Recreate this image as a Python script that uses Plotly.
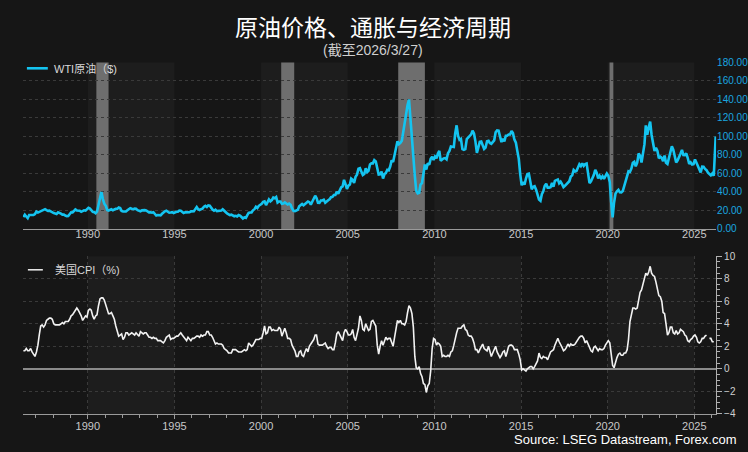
import pandas as pd
import plotly.graph_objects as go

# ---------------- data ----------------
# WTI crude, monthly (USD/bbl), from 1986-04 to 2026-02, plus final point 2026-03-27
wti = [
    12.8, 15.4, 13.4, 11.6, 15.1, 14.9, 14.9, 15.2, 16.1,                     # 1986 Apr-Dec
    18.7, 17.7, 18.3, 18.6, 19.4, 20.0, 21.4, 20.3, 19.5, 19.8, 18.9, 17.3,   # 1987
    17.1, 16.7, 16.2, 17.9, 17.4, 16.5, 15.5, 15.5, 14.5, 13.8, 14.0, 16.3,   # 1988
    18.0, 17.8, 19.4, 21.0, 20.0, 20.0, 19.6, 18.5, 19.6, 20.1, 19.8, 21.1,   # 1989
    22.9, 22.1, 20.4, 18.4, 18.2, 16.9, 18.6, 27.2, 35.0, 40.0, 32.3, 27.3,   # 1990
    25.0, 20.5, 19.9, 20.8, 21.2, 20.2, 21.4, 21.7, 21.9, 23.2, 22.5, 19.5,   # 1991
    18.8, 19.0, 18.9, 20.2, 20.9, 22.4, 21.8, 21.4, 21.9, 21.7, 20.3, 19.4,   # 1992
    19.1, 20.1, 20.3, 20.3, 19.9, 19.1, 17.9, 18.0, 17.5, 18.1, 16.7, 14.5,   # 1993
    15.0, 14.8, 14.7, 16.4, 17.9, 19.1, 19.7, 18.4, 17.5, 17.7, 18.1, 17.2,   # 1994
    18.0, 18.5, 18.6, 19.9, 19.7, 18.4, 17.3, 17.9, 17.9, 17.4, 18.0, 19.0,   # 1995
    18.9, 19.1, 21.4, 23.6, 21.3, 20.5, 21.3, 22.0, 24.0, 24.9, 23.7, 25.4,   # 1996
    25.1, 22.2, 21.0, 19.7, 20.8, 19.3, 19.7, 19.9, 19.8, 21.3, 20.2, 18.3,   # 1997
    16.7, 16.1, 15.0, 15.4, 14.9, 13.7, 14.2, 13.4, 15.0, 14.4, 12.9, 11.3,   # 1998
    12.5, 12.0, 14.7, 17.3, 17.8, 17.9, 20.1, 21.3, 23.9, 22.6, 25.0, 26.1,   # 1999
    27.2, 29.4, 29.9, 25.7, 28.8, 31.8, 29.8, 31.2, 33.9, 33.1, 34.4, 28.5,   # 2000
    29.6, 29.6, 27.2, 27.4, 28.6, 27.6, 26.4, 27.4, 26.2, 22.2, 19.6, 19.3,   # 2001
    19.7, 20.7, 24.4, 26.3, 27.0, 25.5, 26.9, 28.4, 29.7, 28.9, 26.3, 29.4,   # 2002
    32.9, 35.9, 33.5, 28.3, 28.1, 30.7, 30.8, 31.6, 28.3, 30.3, 31.1, 32.1,   # 2003
    34.3, 34.7, 36.7, 36.7, 40.3, 38.0, 40.7, 44.9, 45.9, 53.1, 48.5, 43.3,   # 2004
    46.8, 48.0, 54.3, 53.0, 49.8, 56.3, 58.7, 65.0, 65.6, 62.3, 58.3, 59.4,   # 2005
    65.5, 61.6, 62.9, 69.7, 70.9, 70.9, 74.4, 73.0, 63.8, 58.9, 59.1, 62.0,   # 2006
    54.5, 59.3, 60.4, 63.9, 63.4, 67.5, 74.1, 72.4, 79.9, 85.8, 94.8, 91.7,   # 2007
    93.0, 95.4, 105.5, 112.6, 125.4, 134.0, 140.0, 116.7, 104.1, 76.6, 57.3, 41.1,  # 2008
    38.5, 39.1, 47.9, 49.6, 59.0, 69.6, 64.2, 71.1, 69.4, 75.7, 78.0, 74.5,   # 2009
    78.3, 76.4, 81.2, 84.3, 73.7, 75.3, 76.3, 76.6, 75.2, 81.9, 84.3, 89.2,   # 2010
    89.2, 88.6, 102.9, 112.0, 100.9, 96.3, 97.3, 86.3, 85.5, 86.3, 97.2, 98.6,  # 2011
    100.3, 102.2, 106.2, 103.3, 94.7, 82.3, 87.9, 94.1, 94.5, 89.5, 86.5, 87.9,  # 2012
    94.8, 95.3, 92.9, 92.0, 94.5, 95.8, 104.6, 106.6, 106.3, 100.5, 93.9, 97.6,  # 2013
    94.6, 100.8, 100.8, 102.1, 102.2, 105.8, 103.6, 96.5, 93.2, 84.4, 75.8, 59.3,  # 2014
    47.2, 50.6, 47.8, 54.5, 59.3, 59.8, 51.0, 42.9, 45.5, 46.2, 42.4, 37.2,   # 2015
    31.7, 30.3, 37.5, 40.8, 46.7, 48.8, 44.7, 44.7, 45.2, 49.8, 45.7, 52.0,   # 2016
    52.5, 53.5, 49.3, 51.1, 48.5, 45.2, 46.6, 48.0, 49.8, 51.6, 56.6, 57.9,   # 2017
    63.7, 62.2, 62.7, 66.3, 70.0, 67.9, 71.0, 68.1, 70.2, 70.8, 57.0, 49.5,   # 2018
    51.4, 55.0, 58.2, 63.9, 60.8, 54.7, 57.4, 54.8, 57.0, 54.0, 57.0, 59.9,   # 2019
    57.5, 50.5, 29.2, 12.5, 28.6, 38.3, 40.7, 42.3, 39.6, 39.4, 41.0, 47.0,   # 2020
    52.0, 59.0, 62.3, 61.7, 65.2, 71.4, 72.5, 67.7, 71.6, 81.5, 79.2, 71.7,   # 2021
    83.2, 91.6, 112.0, 101.8, 109.6, 116.0, 101.6, 93.7, 84.3, 87.6, 84.4, 76.4,  # 2022
    78.1, 76.8, 73.3, 79.4, 71.6, 70.3, 76.1, 81.4, 89.4, 85.6, 77.7, 71.9,   # 2023
    74.2, 77.2, 81.3, 85.4, 80.0, 79.8, 81.8, 76.7, 70.2, 71.9, 69.7, 70.1,   # 2024
    75.1, 71.5, 68.2, 63.5, 61.0, 67.3, 67.2, 64.9, 63.5, 60.9, 59.6, 58.0,   # 2025
    60.0, 57.5,                                                               # 2026 Jan-Feb
]
wti_last_date = "2026-03-27"
wti_last_value = 100.0

# US CPI YoY (%), monthly from 1986-04 to 2026-02 (None = missing release)
cpi = [
    1.6, 1.6, 1.8, 1.6, 1.6, 1.8, 1.5, 1.3, 1.1,                     # 1986 Apr-Dec
    1.5, 2.1, 3.0, 3.8, 3.9, 3.7, 3.9, 4.3, 4.4, 4.5, 4.5, 4.4,      # 1987
    4.0, 3.9, 3.9, 3.9, 3.9, 4.0, 4.1, 4.0, 4.2, 4.2, 4.2, 4.4,      # 1988
    4.7, 4.8, 5.0, 5.1, 5.4, 5.2, 5.0, 4.7, 4.3, 4.5, 4.7, 4.6,      # 1989
    5.2, 5.3, 5.2, 4.7, 4.4, 4.7, 4.8, 5.6, 6.2, 6.3, 6.3, 6.1,      # 1990
    5.7, 5.3, 4.9, 4.9, 5.0, 4.7, 4.4, 3.8, 3.4, 2.9, 3.0, 3.1,      # 1991
    2.6, 2.8, 3.2, 3.2, 3.0, 3.1, 3.2, 3.1, 3.0, 3.2, 3.0, 2.9,      # 1992
    3.3, 3.2, 3.1, 3.2, 3.2, 3.0, 2.8, 2.8, 2.7, 2.8, 2.7, 2.7,      # 1993
    2.5, 2.5, 2.5, 2.4, 2.3, 2.5, 2.8, 2.9, 3.0, 2.6, 2.7, 2.7,      # 1994
    2.8, 2.9, 2.9, 3.1, 3.2, 3.0, 2.8, 2.6, 2.5, 2.8, 2.6, 2.5,      # 1995
    2.7, 2.7, 2.8, 2.9, 2.9, 2.8, 3.0, 2.9, 3.0, 3.0, 3.3, 3.3,      # 1996
    3.0, 3.0, 2.8, 2.5, 2.2, 2.3, 2.2, 2.2, 2.2, 2.1, 1.8, 1.7,      # 1997
    1.6, 1.4, 1.4, 1.4, 1.7, 1.7, 1.7, 1.6, 1.5, 1.5, 1.5, 1.6,      # 1998
    1.7, 1.6, 1.7, 2.3, 2.1, 2.0, 2.1, 2.3, 2.6, 2.6, 2.6, 2.7,      # 1999
    2.7, 3.2, 3.8, 3.1, 3.2, 3.7, 3.7, 3.4, 3.5, 3.4, 3.4, 3.4,      # 2000
    3.7, 3.5, 2.9, 3.3, 3.6, 3.2, 2.7, 2.7, 2.6, 2.1, 1.9, 1.6,      # 2001
    1.1, 1.1, 1.5, 1.6, 1.2, 1.1, 1.5, 1.8, 1.5, 2.0, 2.2, 2.4,      # 2002
    2.6, 3.0, 3.0, 2.2, 2.1, 2.1, 2.1, 2.2, 2.3, 2.0, 1.8, 1.9,      # 2003
    1.9, 1.7, 1.7, 2.3, 3.1, 3.3, 3.0, 2.7, 2.5, 3.2, 3.5, 3.3,      # 2004
    3.0, 3.0, 3.1, 3.5, 2.8, 2.5, 3.2, 3.6, 4.7, 4.3, 3.5, 3.4,      # 2005
    4.0, 3.6, 3.4, 3.5, 4.2, 4.3, 4.1, 3.8, 2.1, 1.3, 2.0, 2.5,      # 2006
    2.1, 2.4, 2.8, 2.6, 2.7, 2.7, 2.4, 2.0, 2.8, 3.5, 4.3, 4.1,      # 2007
    4.3, 4.0, 4.0, 3.9, 4.2, 5.0, 5.6, 5.4, 4.9, 3.7, 1.1, 0.1,      # 2008
    0.0, 0.2, -0.4, -0.7, -1.3, -1.4, -2.1, -1.5, -1.3, -0.2, 1.8, 2.7,  # 2009
    2.6, 2.1, 2.3, 2.2, 2.0, 1.1, 1.2, 1.1, 1.1, 1.2, 1.1, 1.5,      # 2010
    1.6, 2.1, 2.7, 3.2, 3.6, 3.6, 3.6, 3.8, 3.9, 3.5, 3.4, 3.0,      # 2011
    2.9, 2.9, 2.7, 2.3, 1.7, 1.7, 1.4, 1.7, 2.0, 2.2, 1.8, 1.7,      # 2012
    1.6, 2.0, 1.5, 1.1, 1.4, 1.8, 2.0, 1.5, 1.2, 1.0, 1.2, 1.5,      # 2013
    1.6, 1.1, 1.5, 2.0, 2.1, 2.1, 2.0, 1.7, 1.7, 1.7, 1.3, 0.8,      # 2014
    -0.1, 0.0, -0.1, -0.2, 0.0, 0.1, 0.2, 0.2, 0.0, 0.2, 0.5, 0.7,   # 2015
    1.4, 1.0, 0.9, 1.1, 1.0, 1.0, 0.8, 1.1, 1.5, 1.6, 1.7, 2.1,      # 2016
    2.5, 2.7, 2.4, 2.2, 1.9, 1.6, 1.7, 1.9, 2.2, 2.0, 2.2, 2.1,      # 2017
    2.1, 2.2, 2.4, 2.5, 2.8, 2.9, 2.9, 2.7, 2.3, 2.5, 2.2, 1.9,      # 2018
    1.6, 1.5, 1.9, 2.0, 1.8, 1.6, 1.8, 1.7, 1.7, 1.8, 2.1, 2.3,      # 2019
    2.5, 2.3, 1.5, 0.3, 0.1, 0.6, 1.0, 1.3, 1.4, 1.2, 1.2, 1.4,      # 2020
    1.4, 1.7, 2.6, 4.2, 5.0, 5.4, 5.4, 5.3, 5.4, 6.2, 6.8, 7.0,      # 2021
    7.5, 7.9, 8.5, 8.3, 8.6, 9.1, 8.5, 8.3, 8.2, 7.7, 7.1, 6.5,      # 2022
    6.4, 6.0, 5.0, 4.9, 4.0, 3.0, 3.2, 3.7, 3.7, 3.2, 3.1, 3.4,      # 2023
    3.1, 3.2, 3.5, 3.4, 3.3, 3.0, 2.9, 2.5, 2.4, 2.6, 2.7, 2.9,      # 2024
    3.0, 2.8, 2.4, 2.3, 2.4, 2.7, 2.7, 2.9, 3.0, None, 2.7, 2.7,     # 2025
    2.4, 2.4,                                                         # 2026 Jan-Feb
]

recessions = [("1990-07-01", "1991-03-15"), ("2001-03-01", "2001-11-30"),
              ("2007-12-01", "2009-06-15"), ("2020-02-10", "2020-04-30")]
light_bands = [("1990-01-01", "1995-01-01"), ("2000-01-01", "2005-01-01"),
               ("2010-01-01", "2015-01-01"), ("2020-01-01", "2025-01-01")]

title_text = "原油价格、通胀与经济周期"
subtitle_text = "(截至2026/3/27)"
source_text = "Source: LSEG Datastream, Forex.com"
wti_label = "WTI原油（$)"
cpi_label = "美国CPI（%)"

# ---------------- build ----------------
wti_dates = list(pd.date_range("1986-04-01", periods=len(wti), freq="MS") + pd.Timedelta(days=14))
wti_dates.append(pd.Timestamp(wti_last_date))
wti_vals = wti + [wti_last_value]
cpi_dates = pd.date_range("1986-04-01", periods=len(cpi), freq="MS") + pd.Timedelta(days=14)

W, H = 748, 452
def px_y(p):
    return 1 - p / H
def px_x(p):
    return p / W

FONT = "Liberation Sans, Arial, Noto Sans CJK SC, sans-serif"
BG = "#161616"
BAND = "#1d1d1d"
GRID = "#3a3a3a"
CYAN = "#14c4f0"

fig = go.Figure()
fig.add_trace(go.Scatter(x=wti_dates, y=wti_vals, mode="lines", xaxis="x", yaxis="y",
                         line=dict(color=CYAN, width=2.6), showlegend=False))
fig.add_trace(go.Scatter(x=cpi_dates, y=cpi, mode="lines", xaxis="x2", yaxis="y2",
                         line=dict(color="#f2f2f2", width=1.6), showlegend=False,
                         connectgaps=False))

xr = ["1986-04-05", "2026-04-05"]
shapes = []
for a, b in light_bands:
    for xr_, yr_ in (("x", "y domain"), ("x2", "y2 domain")):
        shapes.append(dict(type="rect", xref=xr_, yref=yr_, x0=a, x1=b, y0=0, y1=1,
                           fillcolor=BAND, line_width=0, layer="below"))
for a, b in recessions:
    shapes.append(dict(type="rect", xref="x", yref="y domain", x0=a, x1=b, y0=0, y1=1,
                       fillcolor="#6e6e6e", line_width=0, layer="below"))
# legend samples
shapes.append(dict(type="line", xref="paper", yref="paper", x0=px_x(27), x1=px_x(48),
                   y0=px_y(64), y1=px_y(64), line=dict(color=CYAN, width=2.6)))
shapes.append(dict(type="line", xref="paper", yref="paper", x0=px_x(28), x1=px_x(43),
                   y0=px_y(271), y1=px_y(271), line=dict(color="#f2f2f2", width=1.5)))

annotations = [
    dict(text=title_text, x=0.5, y=px_y(21), xref="paper", yref="paper", showarrow=False,
         font=dict(family="Noto Sans CJK SC", size=23, color="#ffffff"), yanchor="middle"),
    dict(text=subtitle_text, x=0.5, y=px_y(45), xref="paper", yref="paper", showarrow=False,
         font=dict(family="Liberation Sans, Noto Sans CJK SC", size=14, color="#cfcfcf"), yanchor="middle"),
    dict(text=wti_label, x=px_x(52), y=px_y(64), xref="paper", yref="paper", showarrow=False,
         xanchor="left", yanchor="middle",
         font=dict(family=FONT, size=11, color="#d8d8d8")),
    dict(text=cpi_label, x=px_x(53), y=px_y(271), xref="paper", yref="paper", showarrow=False,
         xanchor="left", yanchor="middle",
         font=dict(family=FONT, size=11, color="#d8d8d8")),
    dict(text=source_text, x=px_x(742), y=px_y(445), xref="paper", yref="paper", showarrow=False,
         xanchor="right", yanchor="middle",
         font=dict(family=FONT, size=13, color="#ffffff")),
]

xdom = [px_x(23), px_x(719)]
common_x = dict(type="date", range=xr, tick0="1990-01-01", dtick="M60", tickformat="%Y",
                tickfont=dict(family=FONT, size=11, color="#c8c8c8"),
                showline=True, linecolor="#9a9a9a", linewidth=1, zeroline=False)
fig.update_layout(
    width=W, height=H, margin=dict(l=0, r=0, t=0, b=0),
    paper_bgcolor=BG, plot_bgcolor=BG,
    shapes=shapes, annotations=annotations, showlegend=False,
    xaxis=dict(domain=xdom, anchor="y", showgrid=False, ticks="", ticklabelstandoff=-5,
               **common_x),
    yaxis=dict(domain=[px_y(229), px_y(58)], anchor="x", side="right", range=[0, 180],
               dtick=20, tickformat=".2f", showgrid=True, gridcolor=GRID, griddash="dot",
               gridwidth=1, zeroline=False, showline=False, ticks="",
               tickfont=dict(family=FONT, size=10, color="#1aa7e0")),
    xaxis2=dict(domain=xdom, anchor="y2", showgrid=True, gridcolor=GRID, griddash="dot",
                ticks="outside", ticklen=4, tickcolor="#9a9a9a", ticklabelstandoff=-2,
                minor=dict(dtick="M12", ticks="outside", ticklen=3, tickcolor="#9a9a9a"),
                **common_x),
    yaxis2=dict(domain=[px_y(419), px_y(257)], anchor="x2", side="right", range=[-4, 10],
                dtick=2, showgrid=True, gridcolor=GRID, griddash="dot", gridwidth=1,
                zeroline=True, zerolinecolor="#8a8a8a", zerolinewidth=1.5,
                showline=True, linecolor="#b0b0b0", linewidth=1,
                ticks="outside", ticklen=5, tickcolor="#b0b0b0",
                minor=dict(dtick=0.5, ticks="outside", ticklen=3, tickcolor="#b0b0b0"),
                tickfont=dict(family=FONT, size=10, color="#d0d0d0")),
)

fig.write_html("out.html")
